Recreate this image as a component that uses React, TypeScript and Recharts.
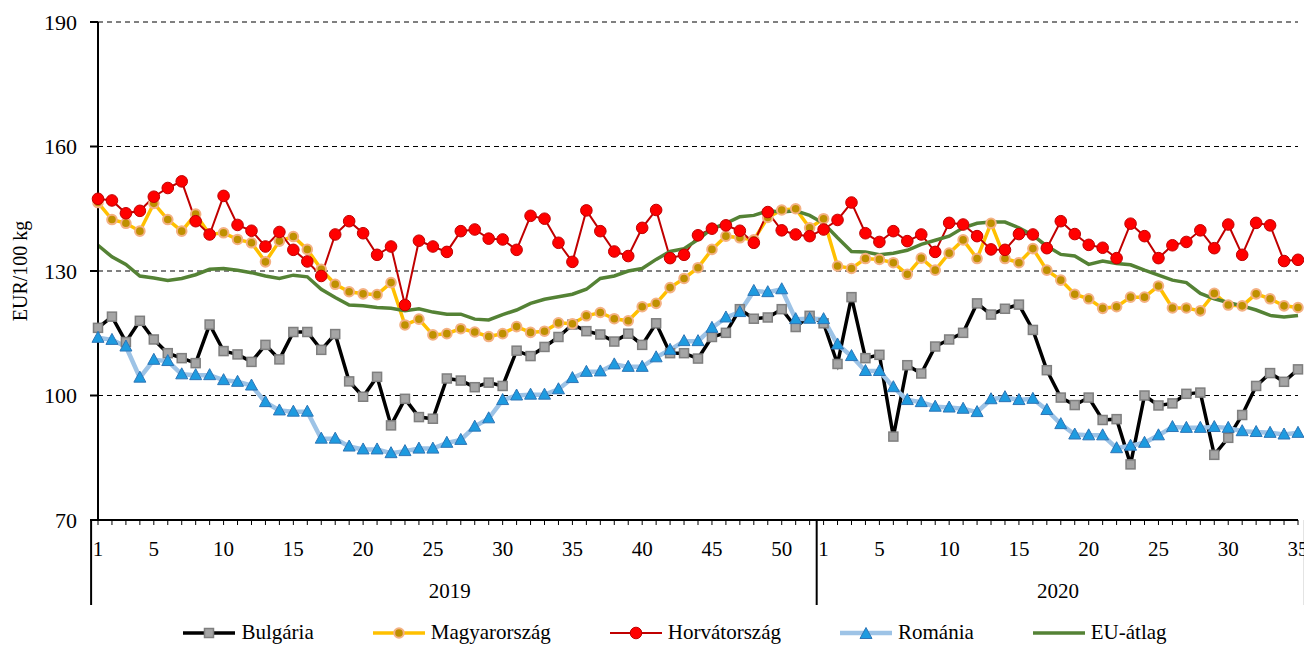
import React from 'react';
import { LineChart, Line, XAxis, YAxis, CartesianGrid, Legend } from 'recharts';

const FONT = '"Liberation Serif", "Times New Roman", serif';

const weeks2019 = [
  1, 2, 3, 4, 5, 6, 7, 8, 9, 10, 11, 12, 13, 14, 15, 16, 17, 18, 19, 20, 21, 22, 23, 24, 25, 26,
  27, 28, 29, 30, 31, 32, 33, 34, 35, 36, 37, 38, 39, 40, 41, 42, 43, 44, 45, 46, 47, 48, 49, 50, 51, 52,
];
const weeks2020 = [
  1, 2, 3, 4, 5, 6, 7, 8, 9, 10, 11, 12, 13, 14, 15, 16, 17, 18, 19, 20, 21, 22, 23, 24, 25, 26,
  27, 28, 29, 30, 31, 32, 33, 34, 35,
];
const yTicks = [70, 100, 130, 160, 190];

const bulgaria = [
  116.3, 119.0, 112.9, 118.0, 113.5, 110.2, 109.0, 107.8, 117.1, 110.7, 109.9, 108.1, 112.2, 108.7, 115.3, 115.3,
  111.0, 114.8, 103.4, 99.7, 104.5, 92.8, 99.2, 94.8, 94.4, 104.1, 103.6, 102.0, 103.1, 102.3, 110.8, 109.5,
  111.7, 114.1, 117.1, 115.5, 114.7, 113.0, 114.9, 112.2, 117.4, 110.2, 110.2, 108.9, 114.1, 115.1, 120.8, 118.5,
  118.8, 120.8, 116.5, 119.2,
  117.4, 107.6, 123.7, 109.0, 109.8, 90.1, 107.3, 105.3, 111.8, 113.5, 115.1, 122.2, 119.5, 120.9, 121.9, 115.8,
  106.1, 99.5, 97.7, 99.5, 94.1, 94.3, 83.4, 100.0, 97.6, 98.1, 100.4, 100.7, 85.7, 89.8, 95.3, 102.3, 105.4,
  103.3, 106.3,
];
const magyar = [
  146.5, 142.4, 141.5, 139.6, 146.3, 142.4, 139.6, 143.7, 138.8, 139.2, 137.6, 136.8, 132.2, 137.2, 138.3, 135.2,
  130.4, 126.8, 125.0, 124.5, 124.3, 127.2, 117.0, 118.4, 114.6, 114.9, 116.1, 115.3, 114.2, 114.9, 116.6, 115.2,
  115.5, 117.5, 117.3, 119.2, 120.0, 118.5, 118.0, 121.4, 122.2, 126.0, 128.2, 130.8, 135.2, 138.4, 138.0, 137.5,
  142.9, 144.7, 145.0, 140.4,
  142.6, 131.2, 130.6, 133.0, 132.8, 132.0, 129.2, 133.1, 130.2, 134.3, 137.5, 133.0, 141.5, 133.0, 132.0, 135.4,
  130.2, 127.8, 124.4, 123.3, 121.0, 121.4, 123.7, 123.7, 126.4, 121.1, 121.1, 120.4, 124.6, 121.8, 121.6, 124.5,
  123.3, 121.6, 121.2,
];
const horvat = [
  147.4, 147.0, 143.9, 144.5, 147.9, 150.0, 151.6, 142.0, 138.8, 148.1, 141.1, 139.7, 135.9, 139.4, 135.1, 132.3,
  128.8, 138.8, 142.0, 139.1, 133.9, 135.9, 121.8, 137.3, 135.9, 134.6, 139.6, 140.0, 137.8, 137.6, 135.1, 143.3,
  142.6, 136.8, 132.2, 144.6, 139.6, 134.7, 133.6, 140.4, 144.7, 133.1, 133.9, 138.6, 140.2, 141.0, 139.7, 136.8,
  144.2, 139.8, 138.8, 138.4,
  140.0, 142.3, 146.5, 139.1, 137.0, 139.6, 137.2, 138.8, 134.6, 141.6, 141.2, 138.4, 135.2, 135.1, 138.9, 138.8,
  135.5, 142.0, 138.9, 136.3, 135.6, 133.1, 141.4, 138.4, 133.1, 136.2, 137.0, 139.8, 135.5, 141.2, 133.9, 141.6,
  141.0, 132.4, 132.7,
];
const romania = [
  113.9, 113.4, 111.8, 104.3, 108.6, 108.3, 105.1, 104.9, 104.9, 103.7, 103.3, 102.4, 98.4, 96.4, 96.1, 96.1,
  89.6, 89.6, 87.7, 87.0, 87.0, 86.1, 86.6, 87.2, 87.2, 88.6, 89.3, 92.5, 94.5, 98.9, 100.0, 100.2, 100.2, 101.5,
  104.2, 105.7, 105.8, 107.5, 106.9, 106.9, 109.2, 111.0, 113.1, 113.1, 116.3, 118.8, 120.1, 125.2, 124.9, 125.6,
  118.4, 118.5,
  118.4, 112.3, 109.5, 105.9, 105.9, 102.0, 98.9, 98.4, 97.3, 97.1, 96.8, 96.0, 99.1, 99.6, 98.9, 99.2, 96.5,
  93.1, 90.6, 90.4, 90.4, 87.3, 87.9, 88.6, 90.4, 92.4, 92.2, 92.2, 92.4, 92.2, 91.4, 91.2, 91.0, 90.6, 91.0,
];
const euAtlag = [
  136.2, 133.4, 131.6, 128.8, 128.3, 127.7, 128.2, 129.1, 130.4, 130.6, 130.2, 129.6, 128.8, 128.2, 129.0, 128.6,
  125.6, 123.6, 121.8, 121.6, 121.2, 121.0, 120.4, 120.9, 120.1, 119.6, 119.6, 118.4, 118.2, 119.5, 120.6, 122.2,
  123.2, 123.8, 124.4, 125.6, 128.2, 128.8, 130.0, 130.6, 132.8, 134.7, 135.4, 137.6, 140.2, 141.5, 143.1, 143.4,
  144.5, 144.2, 144.5, 143.4,
  141.5, 138.0, 134.7, 134.6, 133.9, 134.3, 135.0, 136.4, 137.4, 138.4, 140.4, 141.5, 141.8, 141.8, 140.4, 138.6,
  136.0, 134.0, 133.6, 131.6, 132.4, 131.8, 131.5, 130.2, 129.0, 127.8, 127.2, 124.6, 123.3, 122.4, 121.6, 120.6,
  119.3, 118.9, 119.3,
];

const yearWeeks: Record<number, number[]> = { 2019: weeks2019, 2020: weeks2020 };

const rows = [
  ...weeks2019.map((w) => ({ year: 2019, week: w })),
  ...weeks2020.map((w) => ({ year: 2020, week: w })),
];

const data = rows.map((r, i) => ({
  key: `${r.year}-${r.week}`,
  year: r.year,
  week: r.week,
  bulgaria: bulgaria[i],
  magyar: magyar[i],
  horvat: horvat[i],
  romania: romania[i],
  eu: euAtlag[i],
}));

const SquareDot = (p: any) => {
  if (p.cx == null || p.cy == null) return null;
  return (
    <rect key={`sq-${p.index}`} x={p.cx - 4.5} y={p.cy - 4.5} width={9} height={9}
      fill="#A5A5A5" stroke="#7F7F7F" strokeWidth={1.5} />
  );
};

const GoldDot = (p: any) => {
  if (p.cx == null || p.cy == null) return null;
  return <circle key={`gd-${p.index}`} cx={p.cx} cy={p.cy} r={4.8} fill="#BF9000" stroke="#F4B183" strokeWidth={2} />;
};

const RedDot = (p: any) => {
  if (p.cx == null || p.cy == null) return null;
  return <circle key={`rd-${p.index}`} cx={p.cx} cy={p.cy} r={5.8} fill="#FF0000" stroke="#C00000" strokeWidth={1} />;
};

const TriDot = (p: any) => {
  if (p.cx == null || p.cy == null) return null;
  const { cx, cy } = p;
  return (
    <polygon key={`tr-${p.index}`}
      points={`${cx},${cy - 6.5} ${cx + 6},${cy + 4.5} ${cx - 6},${cy + 4.5}`}
      fill="#1E9BE0" stroke="#2E75B6" strokeWidth={1} />
  );
};

// week labels + year labels + year separators, drawn from the category axis
const WeekTick = (props: any) => {
  const { x, y, index, payload, width } = props;
  const row = data[index];
  if (!row) return null;
  const half = payload && payload.offset ? payload.offset : width / data.length / 2;
  const axisY = y - 5;
  const showLabel = row.week === 1 || row.week % 5 === 0;
  const n = yearWeeks[row.year].length;
  const last = index === data.length - 1;
  return (
    <g>
      {showLabel && (
        <text x={x} y={axisY + 36} textAnchor="middle" fontFamily={FONT} fontSize={21} fill="#000">
          {row.week}
        </text>
      )}
      {row.week === 1 && (
        <>
          <line x1={x - half} x2={x - half} y1={axisY} y2={axisY + 85} stroke="#000" strokeWidth={2} />
          <text x={x - half + n * half} y={axisY + 78} textAnchor="middle" fontFamily={FONT} fontSize={21} fill="#000">
            {row.year}
          </text>
        </>
      )}
      {last && <line x1={x + half} x2={x + half} y1={axisY} y2={axisY + 85} stroke="#000" strokeWidth={2} />}
    </g>
  );
};

const legendItems = [
  { name: 'Bulgária', color: '#000000', width: 3.5, marker: 'square' },
  { name: 'Magyarország', color: '#FFC000', width: 3.5, marker: 'gold' },
  { name: 'Horvátország', color: '#C00000', width: 2, marker: 'red' },
  { name: 'Románia', color: '#9DC3E6', width: 4.5, marker: 'tri' },
  { name: 'EU-átlag', color: '#548235', width: 3.5, marker: 'none' },
];

const LegendContent = () => (
  <div style={{ display: 'flex', justifyContent: 'center', alignItems: 'center', gap: 59, fontFamily: FONT, fontSize: 21, color: '#000' }}>
    {legendItems.map((it) => (
      <div key={it.name} style={{ display: 'flex', alignItems: 'center' }}>
        <svg width={52} height={16} style={{ marginRight: 6 }}>
          <line x1={0} x2={52} y1={8} y2={8} stroke={it.color} strokeWidth={it.width} />
          {it.marker === 'square' && <SquareDot cx={26} cy={8} />}
          {it.marker === 'gold' && <GoldDot cx={26} cy={8} />}
          {it.marker === 'red' && <RedDot cx={26} cy={8} />}
          {it.marker === 'tri' && <TriDot cx={26} cy={9} />}
        </svg>
        <span>{it.name}</span>
      </div>
    ))}
  </div>
);

export default function App() {
  return (
    <div style={{ position: 'absolute', left: 0, top: 0, width: 1304, height: 646, background: '#fff' }}>
      <LineChart width={1304} height={646} data={data} margin={{ top: 22, right: 6, left: 0, bottom: 0 }}>
        <CartesianGrid vertical={false} stroke="#000" strokeDasharray="5 4" strokeWidth={1} />
        <XAxis
          dataKey="key"
          interval={0}
          height={126}
          tickSize={5}
          tickMargin={0}
          axisLine={{ stroke: '#000', strokeWidth: 2 }}
          tickLine={{ stroke: '#000', strokeWidth: 1 }}
          tick={<WeekTick />}
        />
        <YAxis
          width={98}
          domain={[70, 190]}
          ticks={yTicks}
          interval={0}
          tickSize={8}
          tickMargin={13}
          axisLine={{ stroke: '#000', strokeWidth: 2 }}
          tickLine={{ stroke: '#000', strokeWidth: 2 }}
          tick={{ fontFamily: FONT, fontSize: 22, fill: '#000' }}
          label={{
            value: 'EUR/100 kg',
            angle: -90,
            position: 'insideLeft',
            offset: 20,
            style: { textAnchor: 'middle', fontFamily: FONT, fontSize: 20, fill: '#000' },
          }}
        />
        <Legend
          layout="horizontal"
          verticalAlign="middle"
          align="center"
          content={<LegendContent />}
          wrapperStyle={{ top: 620, left: 23, width: 1304 }}
        />
        <Line dataKey="bulgaria" name="Bulgária" stroke="#000000" strokeWidth={3.5} dot={SquareDot}
          isAnimationActive={false} />
        <Line dataKey="magyar" name="Magyarország" stroke="#FFC000" strokeWidth={3.5} dot={GoldDot}
          isAnimationActive={false} />
        <Line dataKey="horvat" name="Horvátország" stroke="#C00000" strokeWidth={2} dot={RedDot}
          isAnimationActive={false} />
        <Line dataKey="romania" name="Románia" stroke="#9DC3E6" strokeWidth={4.5} dot={TriDot}
          isAnimationActive={false} />
        <Line dataKey="eu" name="EU-átlag" stroke="#548235" strokeWidth={3.5} dot={false}
          isAnimationActive={false} />
      </LineChart>
    </div>
  );
}
